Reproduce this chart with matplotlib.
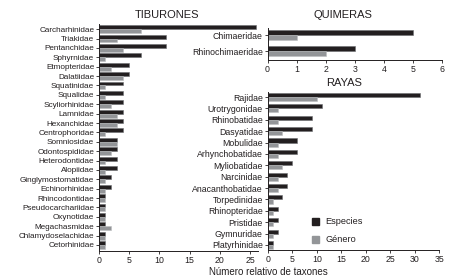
#! python3

# TAXONES POR FAMILIA: TIBURONES, QUIMERAS Y RAYAS

import numpy as np
import matplotlib.pyplot as plt
from matplotlib.patches import Rectangle

plt.rcParams['font.family'] = ['Liberation Sans', 'DejaVu Sans']

# DATA

tib_fam = ['Carcharhinidae', 'Triakidae', 'Pentanchidae', 'Sphyrnidae',
	'Etmopteridae', 'Dalatiidae', 'Squatinidae', 'Squalidae',
	'Scyliorhinidae', 'Lamnidae', 'Hexanchidae', 'Centrophoridae',
	'Somniosidae', 'Odontospididae', 'Heterodontidae', 'Alopiidae',
	'Ginglymostomatidae', 'Echinorhinidae', 'Rhincodontidae',
	'Pseudocarchariidae', 'Oxynotidae', 'Megachasmidae',
	'Chlamydoselachidae', 'Cetorhinidae']
tib_esp = [26, 11, 11, 7, 5, 5, 4, 4, 4, 4, 4, 4, 3, 3, 3, 3, 2, 2, 1, 1, 1, 1, 1, 1]
tib_gen = [7, 3, 4, 1, 2, 4, 1, 1, 2, 3, 3, 1, 3, 2, 1, 1, 1, 1, 1, 1, 1, 2, 1, 1]

qui_fam = ['Chimaeridae', 'Rhinochimaeridae']
qui_esp = [5, 3]
qui_gen = [1, 2]

ray_fam = ['Rajidae', 'Urotrygonidae', 'Rhinobatidae', 'Dasyatidae',
	'Mobulidae', 'Arhynchobatidae', 'Myliobatidae', 'Narcinidae',
	'Anacanthobatidae', 'Torpedinidae', 'Rhinopteridae', 'Pristidae',
	'Gymnuridae', 'Platyrhinidae']
ray_esp = [31, 11, 9, 9, 6, 6, 5, 4, 4, 3, 2, 2, 2, 1]
ray_gen = [10, 2, 2, 3, 2, 2, 3, 2, 2, 1, 1, 1, 1, 1]

C_ESP = '#231f20'
C_GEN = '#939598'
C_TXT = '#231f20'
W, H = 453, 279


def ax_rect(x0, y0, x1, y1):
	# pixel box (top-left origin) to figure fraction
	return [x0 / W, 1 - y1 / H, (x1 - x0) / W, (y1 - y0) / H]


def plot_group(ax, fams, esp, gen, xlim, xticks, ylim, h, fs):
	y = np.arange(len(fams))
	ax.barh(y - h / 2, esp, height=h, color=C_ESP, edgecolor='#6d6e71', linewidth=0.4)
	ax.barh(y + h / 2, gen, height=h, color=C_GEN, edgecolor='#bcbec0', linewidth=0.4)
	ax.set_yticks(y)
	ax.set_yticklabels(fams, fontsize=fs, color=C_TXT)
	ax.set_xticks(xticks)
	ax.set_xticklabels([str(t) for t in xticks], fontsize=6.3, color=C_TXT)
	ax.set_xlim(*xlim)
	ax.set_ylim(*ylim)
	for s in ['top', 'right']:
		ax.spines[s].set_visible(False)
	for s in ['left', 'bottom']:
		ax.spines[s].set_color(C_TXT)
		ax.spines[s].set_linewidth(0.7)
	ax.tick_params(axis='both', length=2, width=0.6, pad=1.5, colors=C_TXT)


fig = plt.figure(figsize=(4.53, 2.79), dpi=100)

ax1 = fig.add_axes(ax_rect(99, 24, 258, 251))
plot_group(ax1, tib_fam, tib_esp, tib_gen, (0, 26.3), [0, 5, 10, 15, 20, 25],
	(len(tib_fam) - 1 + 0.64, -0.55), 0.42, 5.9)

ax2 = fig.add_axes(ax_rect(267.5, 28, 442.3, 60))
plot_group(ax2, qui_fam, qui_esp, qui_gen, (0, 6), [0, 1, 2, 3, 4, 5, 6],
	(1.56, -0.44), 0.3, 6.3)

ax3 = fig.add_axes(ax_rect(267.7, 92, 439.3, 250))
plot_group(ax3, ray_fam, ray_esp, ray_gen, (0, 35), [0, 5, 10, 15, 20, 25, 30, 35],
	(len(ray_fam) - 1 + 0.44, -0.44), 0.36, 6.3)

# Titles
fig.text(167 / W, 1 - 15 / H, 'TIBURONES', fontsize=8, color=C_TXT, ha='center', va='center')
fig.text(343 / W, 1 - 15 / H, 'QUIMERAS', fontsize=8, color=C_TXT, ha='center', va='center')
fig.text(344 / W, 1 - 83 / H, 'RAYAS', fontsize=8, color=C_TXT, ha='center', va='center')
fig.text(268 / W, 1 - 272 / H, 'Número relativo de taxones', fontsize=7, color=C_TXT,
	ha='center', va='center')

# Legend
for yy, col, lab in [(221, C_ESP, 'Especies'), (239, C_GEN, 'Género')]:
	fig.patches.append(Rectangle((312 / W, 1 - (yy + 3.5) / H), 7 / W, 7 / H,
		transform=fig.transFigure, color=col, figure=fig))
	fig.text(325 / W, 1 - yy / H, lab, fontsize=6.6, color=C_TXT, ha='left', va='center')

fig.savefig('out.png', dpi=100)
